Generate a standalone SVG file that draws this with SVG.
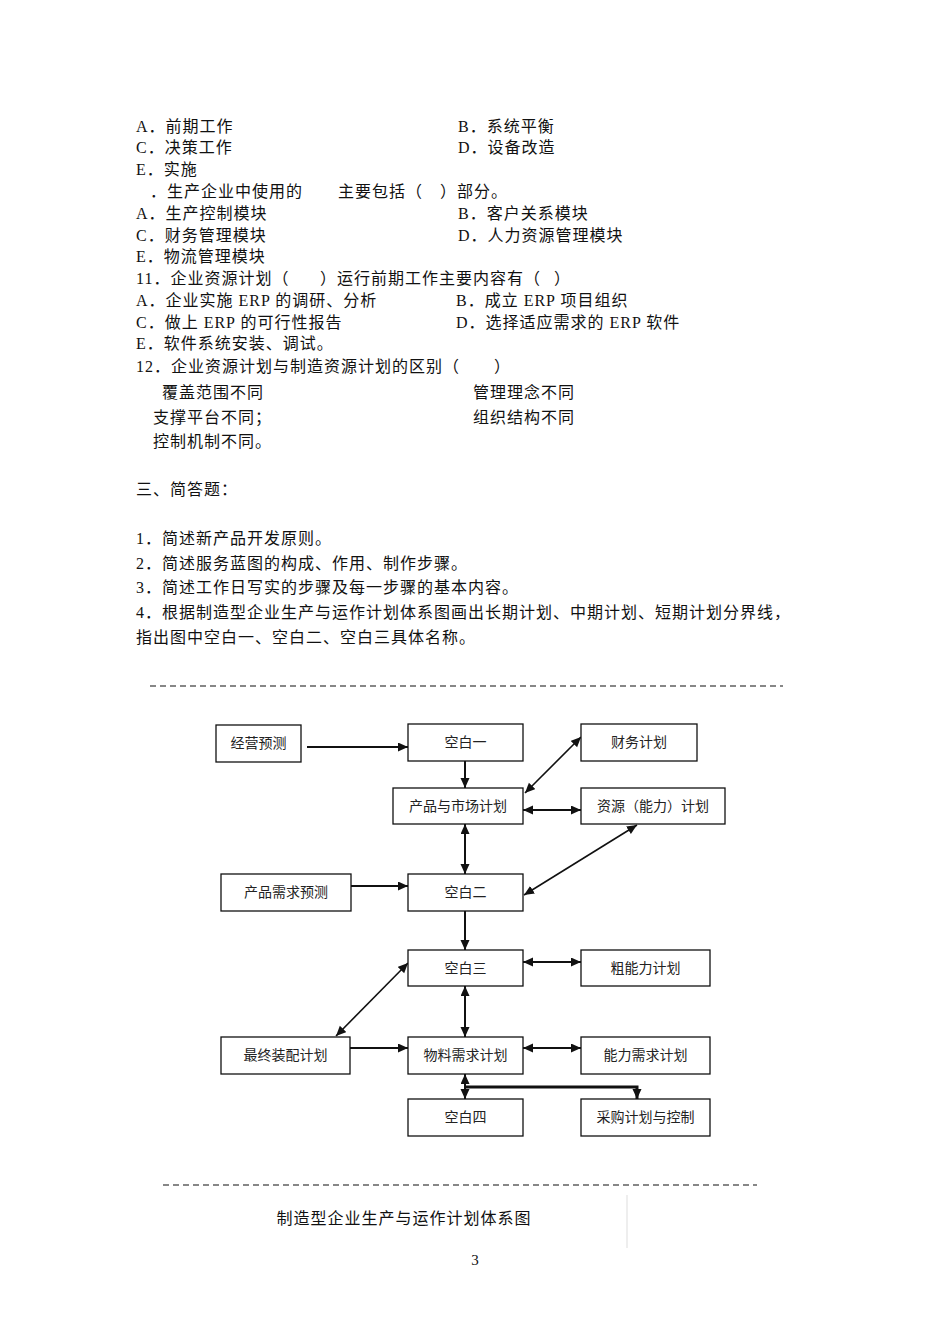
<svg xmlns="http://www.w3.org/2000/svg" width="950" height="1344" viewBox="0 0 950 1344">
<defs>
<style>
.t{font-family:"Liberation Serif","Noto Sans CJK SC",serif;font-size:16px;letter-spacing:1px;fill:#111}
.b{font-family:"Liberation Serif","Noto Sans CJK SC",sans-serif;font-size:14px;fill:#222;text-anchor:middle}
.box{fill:#fff;stroke:#111;stroke-width:1.3}
.c{stroke:#111;stroke-width:2;fill:none}
.d{stroke:#111;stroke-width:1.6;fill:none}
.dash{stroke:#111;stroke-width:1.2;stroke-dasharray:6 4;fill:none}
</style>
<marker id="ah" markerUnits="userSpaceOnUse" markerWidth="11" markerHeight="10" refX="10" refY="4.5" orient="auto-start-reverse" viewBox="0 0 11 10">
<path d="M0,0 L10,4.5 L0,9 z" fill="#111"/>
</marker>
</defs>
<rect width="950" height="1344" fill="#fff"/>

<g id="questions">
<text class="t" x="136" y="132">A．前期工作</text>
<text class="t" x="458" y="132">B．系统平衡</text>
<text class="t" x="136" y="153">C．决策工作</text>
<text class="t" x="458" y="153">D．设备改造</text>
<text class="t" x="136" y="175">E．实施</text>
<text class="t" x="150" y="197">．生产企业中使用的</text>
<text class="t" x="338" y="197">主要包括（</text>
<text class="t" x="440" y="197">）部分。</text>
<text class="t" x="136" y="219">A．生产控制模块</text>
<text class="t" x="458" y="219">B．客户关系模块</text>
<text class="t" x="136" y="241">C．财务管理模块</text>
<text class="t" x="458" y="241">D．人力资源管理模块</text>
<text class="t" x="136" y="262">E．物流管理模块</text>
<text class="t" x="136" y="284">11．企业资源计划（</text>
<text class="t" x="320" y="284">）运行前期工作主要内容有（</text>
<text class="t" x="554" y="284">）</text>
<text class="t" x="136" y="306">A．企业实施 ERP 的调研、分析</text>
<text class="t" x="456" y="306">B．成立 ERP 项目组织</text>
<text class="t" x="136" y="328">C．做上 ERP 的可行性报告</text>
<text class="t" x="456" y="328">D．选择适应需求的 ERP 软件</text>
<text class="t" x="136" y="349">E．软件系统安装、调试。</text>
<text class="t" x="136" y="372">12．企业资源计划与制造资源计划的区别（</text>
<text class="t" x="494" y="372">）</text>
<text class="t" x="162" y="398">覆盖范围不同</text>
<text class="t" x="473" y="398">管理理念不同</text>
<text class="t" x="153" y="423">支撑平台不同；</text>
<text class="t" x="473" y="423">组织结构不同</text>
<text class="t" x="153" y="447">控制机制不同。</text>
<text class="t" x="136" y="495">三、简答题：</text>
<text class="t" x="136" y="544">1．简述新产品开发原则。</text>
<text class="t" x="136" y="569">2．简述服务蓝图的构成、作用、制作步骤。</text>
<text class="t" x="136" y="593">3．简述工作日写实的步骤及每一步骤的基本内容。</text>
<text class="t" x="136" y="618">4．根据制造型企业生产与运作计划体系图画出长期计划、中期计划、短期计划分界线，</text>
<text class="t" x="136" y="643">指出图中空白一、空白二、空白三具体名称。</text>
</g>

<g id="frame">
<line class="dash" x1="150" y1="686" x2="783" y2="686"/>
<line class="dash" x1="163" y1="1185" x2="757" y2="1185"/>
<line x1="627" y1="1195" x2="627" y2="1248" stroke="#ddd" stroke-width="1"/>
<text class="t" x="404" y="1224" text-anchor="middle">制造型企业生产与运作计划体系图</text>
<text x="475" y="1265" text-anchor="middle" font-family="Liberation Serif, serif" font-size="15" fill="#111">3</text>
</g>

<g id="connectors">
<line class="c" x1="307" y1="747" x2="408" y2="747" marker-end="url(#ah)"/>
<line class="c" x1="465" y1="761" x2="465" y2="788" marker-end="url(#ah)"/>
<line class="d" x1="525" y1="793" x2="581" y2="737" marker-start="url(#ah)" marker-end="url(#ah)"/>
<line class="c" x1="523" y1="810" x2="581" y2="810" marker-start="url(#ah)" marker-end="url(#ah)"/>
<line class="c" x1="465" y1="824" x2="465" y2="874" marker-start="url(#ah)" marker-end="url(#ah)"/>
<line class="d" x1="637" y1="825" x2="524" y2="895" marker-start="url(#ah)" marker-end="url(#ah)"/>
<line class="c" x1="351" y1="886" x2="408" y2="886" marker-end="url(#ah)"/>
<line class="c" x1="465" y1="911" x2="465" y2="950" marker-end="url(#ah)"/>
<line class="c" x1="523" y1="962" x2="581" y2="962" marker-start="url(#ah)" marker-end="url(#ah)"/>
<line class="d" x1="408" y1="963" x2="336" y2="1036" marker-start="url(#ah)" marker-end="url(#ah)"/>
<line class="c" x1="465" y1="986" x2="465" y2="1037" marker-start="url(#ah)" marker-end="url(#ah)"/>
<line class="c" x1="350" y1="1048" x2="408" y2="1048" marker-end="url(#ah)"/>
<line class="c" x1="523" y1="1048" x2="581" y2="1048" marker-start="url(#ah)" marker-end="url(#ah)"/>
<line class="c" x1="465" y1="1074" x2="465" y2="1099" marker-start="url(#ah)" marker-end="url(#ah)"/>
<polyline points="465,1087 637,1087 637,1099" stroke="#111" stroke-width="3" fill="none" marker-end="url(#ah)"/>
</g>

<g id="n-jyyc"><rect class="box" x="216" y="725" width="85" height="37"/><text class="b" x="258.5" y="748">经营预测</text></g>
<g id="n-kb1"><rect class="box" x="408" y="724" width="115" height="37"/><text class="b" x="465.5" y="747">空白一</text></g>
<g id="n-cwjh"><rect class="box" x="581" y="724" width="116" height="37"/><text class="b" x="639" y="747">财务计划</text></g>
<g id="n-cpsc"><rect class="box" x="393" y="788" width="130" height="36"/><text class="b" x="458" y="811">产品与市场计划</text></g>
<g id="n-zyjh"><rect class="box" x="581" y="788" width="144" height="36"/><text class="b" x="653" y="811">资源（能力）计划</text></g>
<g id="n-cpxq"><rect class="box" x="221" y="874" width="130" height="37"/><text class="b" x="286" y="897">产品需求预测</text></g>
<g id="n-kb2"><rect class="box" x="408" y="874" width="115" height="37"/><text class="b" x="465.5" y="897">空白二</text></g>
<g id="n-kb3"><rect class="box" x="408" y="950" width="115" height="36"/><text class="b" x="465.5" y="973">空白三</text></g>
<g id="n-cnl"><rect class="box" x="581" y="950" width="129" height="36"/><text class="b" x="645.5" y="973">粗能力计划</text></g>
<g id="n-zzzp"><rect class="box" x="221" y="1037" width="129" height="37"/><text class="b" x="285.5" y="1060">最终装配计划</text></g>
<g id="n-wlxq"><rect class="box" x="408" y="1037" width="115" height="37"/><text class="b" x="465.5" y="1060">物料需求计划</text></g>
<g id="n-nlxq"><rect class="box" x="581" y="1037" width="129" height="37"/><text class="b" x="645.5" y="1060">能力需求计划</text></g>
<g id="n-kb4"><rect class="box" x="408" y="1099" width="115" height="37"/><text class="b" x="465.5" y="1122">空白四</text></g>
<g id="n-cgjh"><rect class="box" x="581" y="1099" width="129" height="37"/><text class="b" x="645.5" y="1122">采购计划与控制</text></g>
</svg>
